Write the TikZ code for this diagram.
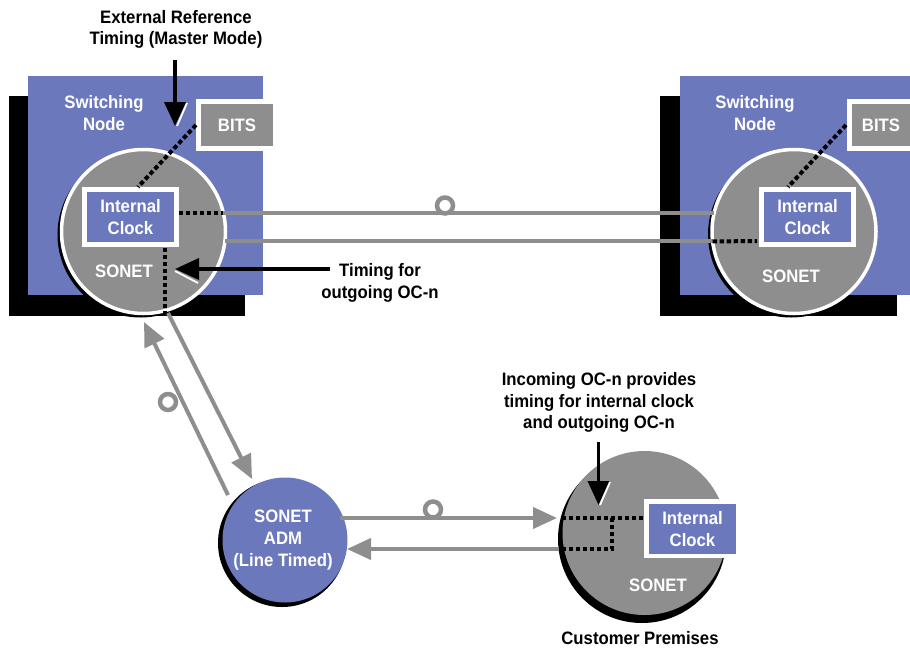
\documentclass[tikz,border=0pt]{standalone}
\usepackage{fontspec}
\setmainfont{Liberation Sans}[FakeStretch=0.93,BoldFont={Liberation Sans Bold}]
\usetikzlibrary{arrows.meta}
\definecolor{nodeblue}{HTML}{6B78BC}
\definecolor{nodegray}{HTML}{8E8E8E}
\tikzset{
  x=1pt,y=-1pt,
  every node/.style={outer sep=0pt,inner sep=0pt},
  lbl/.style={font=\fontsize{18}{21.7}\selectfont\bfseries,align=center,text=black},
  wlbl/.style={lbl,text=white},
  bigcircle/.style={circle,minimum size=164pt,fill=nodegray},
  ringed/.style={bigcircle,draw=white,line width=3.5pt},
  shadowc/.style={circle,fill=black,minimum size=#1},
  panel/.style={fill=nodeblue},
  bb/.style={fill=black},
  link/.style={draw=nodegray,line width=4pt},
  linkarrow/.style={link,-{Triangle[length=24pt,width=21pt,fill=nodegray]}},
  dashedlink/.style={draw=black,line width=4pt,dash pattern=on 4.4pt off 2.6pt},
  callout/.style={draw=black,line width=3.6pt,-{Triangle[length=24pt,width=21pt,fill=black]}},
  slash/.style={draw=white,line width=1.8pt},
  ring/.style={circle,draw=nodegray,line width=4.5pt,fill=white,minimum size=16pt},
  clockbox/.style={draw=white,fill=nodeblue,line width=4.5pt,minimum width=92pt,minimum height=55pt,wlbl},
  bitsbox/.style={fill=nodegray,wlbl},
}
\begin{document}
\begin{tikzpicture}
\useasboundingbox (0,0) rectangle (910,651);
% Left switching node
\fill[bb] (9,96) rectangle (245,316);
\fill[panel] (27.5,75.5) rectangle (263,295);
\node[shadowc=166pt] (sw1s) at (140.5,234.5) {};
\node[ringed] (sw1) at (143.5,231.5) {};
\fill[white] (196,99) rectangle (273,150.5);
\node[bitsbox,minimum width=72pt,minimum height=42.5pt] (bits1) at (237,125) {BITS};
\node[clockbox] (clock1) at (130.5,217) {Internal\\Clock};
% Right switching node
\fill[bb] (660,96) rectangle (897,316);
\fill[panel] (679.5,75.5) rectangle (910,295);
\node[shadowc=166pt] (sw2s) at (791,234.5) {};
\node[ringed] (sw2) at (794,231.5) {};
\fill[white] (847,99) rectangle (910,150.5);
\node[bitsbox,minimum width=58pt,minimum height=42.5pt] (bits2) at (881,125) {BITS};
\node[clockbox] (clock2) at (807.5,217) {Internal\\Clock};
% Lower circles
\node[shadowc=128pt] (adms) at (282,543) {};
\node[circle,minimum size=125pt,fill=nodeblue,wlbl] (adm) at (285,540) {};
\node[shadowc=168pt] (cps) at (642,539) {};
\node[bigcircle] (cp) at (644.5,533) {};
\fill[white] (644,499) rectangle (737,558);
\node[fill=nodeblue,wlbl,minimum width=87pt,minimum height=50pt] (clock3) at (692.5,529) {Internal\\Clock};
% Links
\draw[link] (sw1.13) -- (sw2.167);
\draw[link] (sw1.-7) -- (sw2.187);
\node[ring] (r1) at (445,205.5) {};
\node[ring] (r2) at (168,402) {};
\draw[linkarrow] (228,495) coordinate (a1) -- (144,322) coordinate (a2);
\draw[linkarrow] (168,313) coordinate (b1) -- (252,479) coordinate (b2);
\node[ring] (r3) at (433,509.5) {};
\coordinate (c1) at (340,518);
\draw[linkarrow] (c1) -- (557,518) coordinate (c2);
\draw[linkarrow] (559,549) coordinate (d1) -- (347,549) coordinate (d2);
% Dashed timing paths
\draw[dashedlink] (bits1.west) ++(-5,0) -- (138,187);
\draw[dashedlink] (bits2.west) ++(-6,0) -- (788,187);
\draw[dashedlink] (clock1.east |- sw1.13) ++(2,0) -- (sw1.13);
\draw[dashedlink] (sw2.187) -- (757,241);
\draw[dashedlink] (165,248) coordinate (e1) -- (165,313) coordinate (e2);
\coordinate (f1) at (562,518);
\coordinate (f2) at (562,549);
\coordinate (f3) at (612,518);
\coordinate (f4) at (612,549);
\draw[dashedlink] (f1) -- (644,518);
\draw[dashedlink] (f2) -- (f4) -- (f3);
% Callouts
\draw[callout] (175,60) coordinate (g1) -- (175,126) coordinate (g2);
\draw[slash] (187,103) -- (177,126);
\draw[callout] (330,269) coordinate (h1) -- (175,269) coordinate (h2);
\draw[slash] (175,271) -- (198,283);
\draw[callout] (598.5,442) coordinate (i1) -- (598.5,505) coordinate (i2);
\draw[slash] (610,482) -- (600,505);
% Labels
\node[lbl] (t1) at (176,29.5) {External Reference\\Timing (Master Mode)};
\node[wlbl] (t2) at (104,113) {Switching\\Node};
\node[wlbl] (t3) at (755,113) {Switching\\Node};
\node[wlbl] (t4) at (124,271) {SONET};
\node[wlbl] (t5) at (791,276) {SONET};
\node[wlbl] (t6) at (658,585) {SONET};
\node[lbl] (t7) at (380,283) {Timing for\\outgoing OC-n};
\node[lbl] (t8) at (599,402.5) {Incoming OC-n provides\\timing for internal clock\\and outgoing OC-n};
\node[wlbl] (t9) at (283,540) {SONET\\ADM\\(Line Timed)};
\node[lbl] (t10) at (640,638) {Customer Premises};
\end{tikzpicture}
\end{document}
